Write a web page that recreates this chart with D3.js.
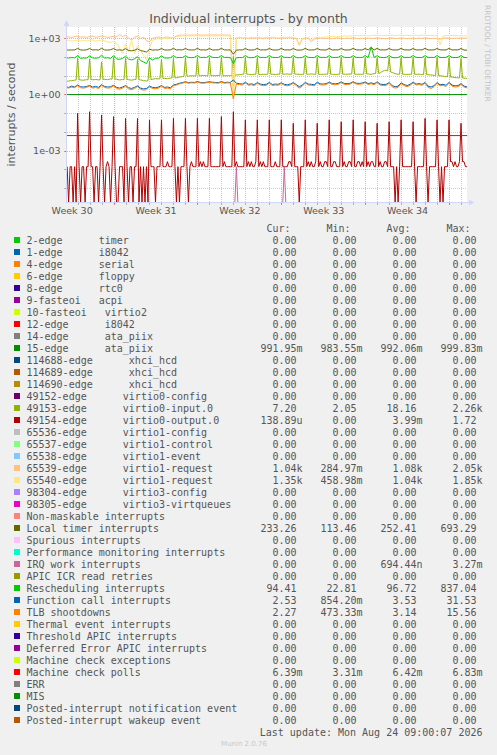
<!DOCTYPE html>
<html><head><meta charset="utf-8">
<script src="https://cdn.jsdelivr.net/npm/d3@7/dist/d3.min.js"></script>
<style>html,body{margin:0;padding:0;background:#F0F0F0;} svg{display:block;}</style>
</head><body><svg id="c" width="497" height="755"></svg>
<script>
// ---------------- DATA ----------------
const title = "Individual interrupts - by month";
const yLabel = "interrupts / second";
const lastUpdate = "Last update: Mon Aug 24 09:00:07 2026";
const viewStart = Date.UTC(2026, 6, 22, 2, 45);
const viewEnd = Date.UTC(2026, 7, 24, 12, 0);
const dataStart = Date.UTC(2026, 6, 22, 0, 0);
const stepHours = 6;      // step of the 4-per-day series
const stepHoursFine = 3;  // step of the 8-per-day series
const yTicks = [1e-3, 1, 1e3];
const yDecades = [1e-5, 1e-4, 1e-3, 1e-2, 1e-1, 1, 1e1, 1e2, 1e3];

const names = [
"2-edge      timer","1-edge      i8042","4-edge      serial","6-edge      floppy","8-edge      rtc0",
"9-fasteoi   acpi","10-fasteoi   virtio2","12-edge      i8042","14-edge      ata_piix","15-edge      ata_piix",
"114688-edge      xhci_hcd","114689-edge      xhci_hcd","114690-edge      xhci_hcd",
"49152-edge      virtio0-config","49153-edge      virtio0-input.0","49154-edge      virtio0-output.0",
"65536-edge      virtio1-config","65537-edge      virtio1-control","65538-edge      virtio1-event",
"65539-edge      virtio1-request","65540-edge      virtio1-request","98304-edge      virtio3-config",
"98305-edge      virtio3-virtqueues","Non-maskable interrupts","Local timer interrupts","Spurious interrupts",
"Performance monitoring interrupts","IRQ work interrupts","APIC ICR read retries","Rescheduling interrupts",
"Function call interrupts","TLB shootdowns","Thermal event interrupts","Threshold APIC interrupts",
"Deferred Error APIC interrupts","Machine check exceptions","Machine check polls","ERR","MIS",
"Posted-interrupt notification event","Posted-interrupt wakeup event"];
const colors = [
"#00CC00","#0066B3","#FF8000","#FFCC00","#330099","#990099","#CCFF00","#FF0000","#808080","#008F00",
"#00487D","#B35A00","#B38F00","#6B006B","#8FB300","#B30000","#BEBEBE","#80FF80","#80C9FF","#FFC080",
"#FFE680","#AA80FF","#EE00CC","#FF8080","#666600","#FFBFFF","#00FFCC","#CC6699","#999900","#00CC00",
"#0066B3","#FF8000","#FFCC00","#330099","#990099","#CCFF00","#FF0000","#808080","#008F00","#00487D","#B35A00"];
const Z = "0.00 ";
const cur = [Z,Z,Z,Z,Z,Z,Z,Z,Z,"991.95m",Z,Z,Z,Z,"7.20 ","138.89u",Z,Z,Z,"1.04k","1.35k",Z,Z,Z,"233.26 ",Z,Z,Z,Z,"94.41 ","2.53 ","2.27 ",Z,Z,Z,Z,"6.39m",Z,Z,Z,Z];
const min = [Z,Z,Z,Z,Z,Z,Z,Z,Z,"983.55m",Z,Z,Z,Z,"2.05 ",Z,Z,Z,Z,"284.97m","458.98m",Z,Z,Z,"113.46 ",Z,Z,Z,Z,"22.81 ","854.20m","473.33m",Z,Z,Z,Z,"3.31m",Z,Z,Z,Z];
const avg = [Z,Z,Z,Z,Z,Z,Z,Z,Z,"992.06m",Z,Z,Z,Z,"18.16 ","3.99m",Z,Z,Z,"1.08k","1.04k",Z,Z,Z,"252.41 ",Z,Z,"694.44n",Z,"96.72 ","3.53 ","3.14 ",Z,Z,Z,Z,"6.42m",Z,Z,Z,Z];
const max = [Z,Z,Z,Z,Z,Z,Z,Z,Z,"999.83m",Z,Z,Z,Z,"2.26k","1.72 ",Z,Z,Z,"2.05k","1.85k",Z,Z,Z,"693.29 ",Z,Z,"3.27m",Z,"837.04 ","31.53 ","15.56 ",Z,Z,Z,Z,"6.83m",Z,Z,Z,Z];

// 6-hourly samples from Jul 22 00:00 (4 per day)
const v65539 = [
1150,1220,1100,1260, 1300,1150,1220,1080, 1250,1320,1150,1200, 1350,1250,1120,1200,
1300,1200,1600,1250, 1450,1050,800,1200, 1300,950,1150,750, 650,1000,1100,1200,
1000,1100,1200,1050, 1100,1300,1450,1500, 1500,1480,1500,1490, 1510,1500,1490,1500,
1500,1490,1510,1500, 1490,1500,1500,1480, 0.6,1050,1150,1000, 1100,950,1050,1000,
1080,1000,950,1050, 1000,1100,1050,980, 1050,1000,1100,1050, 1000,950,420,900,
1050,1000,650,900, 1000,1050,980,1000, 1020,950,1000,1050, 1000,980,1020,1000,
1050,1000,950,1000, 1000,1020,980,1000, 1050,1000,1000,950, 1000,1050,980,1000,
1020,1000,950,1000, 1000,980,1020,1000, 1050,1000,980,1000, 1000,900,1000,1050,
1000,980,1020,1000, 1050,1000,1040];
const v65540 = [
750,800,700,760, 800,700,780,720, 760,820,700,760, 800,740,650,600,
700,550,300,150, 500,200,800,150, 400,250,120,70, 300,800,900,950,
900,1000,950,1050, 1100,1200,1300,1350, 1320,1350,1330,1340, 1350,1330,1340,1350,
1340,1350,1330,1350, 1350,1340,1350,1330, 0.5,1000,1100,1050, 1100,1050,1150,1100,
1150,1100,1050,1100, 1100,1150,1100,1050, 1100,1150,1100,1150, 1100,1050,500,1000,
1100,1150,800,1050, 1150,1100,1150,1200, 1200,1250,1200,1250, 1300,1350,1300,1350,
1350,1400,1350,1400, 1400,1350,1400,1450, 1450,1400,1450,1400, 1400,1450,1400,1450,
1450,1400,1450,1400, 1400,1450,1400,1450, 1450,1400,1450,1400, 1400,450,1300,1400,
1400,1450,1400,1350, 1400,1350,1350];
const vLOC = [
245,235,240,238, 290,240,235,242, 285,238,245,236, 295,240,236,244,
285,235,242,230, 280,225,215,230, 275,220,205,185, 260,235,240,238,
285,240,236,242, 290,238,245,240, 285,242,238,240, 290,240,242,238,
285,238,240,242, 290,240,238,241, 140,235,242,238, 285,240,238,242,
290,238,242,240, 285,242,238,240, 290,240,242,238, 285,238,236,240,
290,240,238,242, 285,242,240,238, 290,238,242,240, 285,240,238,242,
290,242,240,238, 285,240,320,240, 290,238,242,240, 285,240,238,242,
290,242,240,238, 285,238,242,240, 290,240,238,242, 285,242,240,238,
290,238,242,240, 285,236,233];
const vRES = [
92,88,95,90, 120,85,90,88, 115,90,86,92, 125,88,92,85,
118,80,75,85, 110,78,70,80, 105,65,55,45, 90,70,85,88,
115,90,88,92, 120,92,95,94, 118,95,93,96, 120,94,96,95,
118,96,94,95, 120,95,96,94, 45,92,95,93, 120,95,92,96,
118,94,96,95, 120,96,94,95, 118,95,96,94, 120,94,92,95,
118,96,95,94, 120,95,96,95, 118,94,95,96, 120,96,94,95,
118,95,96,94, 120,94,350,95, 118,96,94,95, 120,95,92,94,
118,94,96,95, 120,96,94,95, 118,95,96,94, 120,94,95,96,
118,96,94,95, 120,95,94];
const vCAL = [
2.6,2.4,2.8,2.5, 3.2,2.6,2.5,2.7, 3.0,2.5,2.7,2.4, 3.3,2.7,2.5,2.6,
3.1,2.4,2.2,2.5, 3.0,2.3,2.1,2.4, 2.9,2.2,2.0,2.1, 2.8,2.4,2.3,2.5,
3.0,2.4,2.5,2.3, 3.2,3.5,4.0,4.3, 4.8,4.3,4.5,4.4, 4.9,4.4,4.3,4.5,
4.8,4.5,4.4,4.3, 4.9,4.3,4.5,4.4, 6.0,4.0,3.8,3.6, 4.5,3.5,3.7,3.4,
4.3,3.6,3.4,3.5, 4.4,3.4,3.6,3.5, 4.2,3.5,3.3,3.6, 4.3,3.4,2.6,3.2,
4.4,3.6,3.5,3.3, 4.5,3.7,3.6,3.8, 4.6,3.8,3.7,3.9, 4.7,3.9,3.8,4.0,
4.8,4.0,3.9,4.1, 4.6,3.8,4.2,3.7, 4.7,3.6,3.4,3.5, 4.3,3.0,2.6,2.8,
4.2,3.4,3.0,3.5, 4.5,3.6,3.8,3.5, 4.4,2.8,2.5,3.0, 4.3,3.3,3.5,3.1,
4.4,3.2,2.9,3.0, 3.8,2.8,2.53];
const vTLB = [
2.4,2.2,2.5,2.3, 3.0,2.3,2.2,2.4, 2.8,2.2,2.4,2.1, 3.1,2.4,2.2,2.3,
2.9,2.1,1.9,2.2, 2.8,2.0,1.8,2.1, 2.7,1.9,1.7,1.8, 2.6,2.1,2.0,2.2,
2.8,2.1,2.2,2.0, 3.0,3.2,3.7,4.0, 4.5,4.0,4.2,4.1, 4.6,4.1,4.0,4.2,
4.5,4.2,4.1,4.0, 4.6,4.0,4.2,4.1, 0.6,3.6,3.4,3.2, 4.2,3.1,3.3,3.0,
4.0,3.2,3.0,3.1, 4.1,3.0,3.2,3.1, 3.9,3.1,2.9,3.2, 4.0,3.0,2.2,2.8,
4.1,3.2,3.1,2.9, 4.2,3.3,3.2,3.4, 4.3,3.4,3.3,3.5, 4.4,3.5,3.4,3.6,
4.5,3.6,3.5,3.7, 4.3,3.4,3.8,3.3, 4.4,3.2,3.0,3.1, 4.0,2.6,2.2,2.4,
3.9,3.0,2.6,3.1, 4.2,3.2,3.4,3.1, 4.1,2.4,2.1,2.6, 4.0,2.9,3.1,2.7,
4.1,2.8,2.5,2.6, 3.5,2.5,2.27];

// 3-hourly samples from Jul 22 00:00 (8 per day)
const v49153 = [
5.0,5.1,5.2,5.4,5.5,5.6,5.8,6.0, 85,6.2,6.0,5.8,5.8,6.0,6.2,6.1,
80,6.3,6.1,6.2,6.4,6.2,6.0,6.2, 55,6.4,6.5,6.3,6.2,6.5,6.8,6.6,
95,6.6,6.5,6.2,6.0,6.1,6.3,6.2, 85,6.4,6.2,6.0,5.8,6.0,6.5,6.3,
75,6.2,6.0,5.8,5.5,5.4,5.2,5.5, 60,6.2,6.5,6.8,7.0,6.9,6.8,7.0,
75,7.1,7.2,7.1,7.0,7.3,7.5,7.6, 85,7.6,7.8,8.2,8.5,8.8,9.0,9.3,
90,9.6,9.5,9.8,10,9.9,9.8,10, 95,10.2,10,10.3,10.5,10.2,10,10.1,
90,10.1,10.2,10.1,10,10.3,10.5,10.2, 95,10.2,10,10.1,10.2,10.1,10,10.5,
110,10.8,11,11.2,11.5,11.8,12,12.1, 95,12.1,12,11.8,11.5,11.8,12,12,
90,11.7,11.5,11.8,12,11.9,11.8,12, 95,12.1,12,11.9,11.8,12,12.2,12.1,
90,12.1,12,12.3,12.5,12.2,12,12.1, 95,12.3,12.2,12.1,12,11.9,11.8,12,
90,12.1,12,12.2,12.5,12.3,12,11.9, 95,11.9,11.8,11.9,12,12.1,12.2,12.1,
85,12.1,12,11.9,11.8,11.9,12,12.1, 95,12.3,12.2,12.1,12,12.3,12.5,12.4,
90,12.2,12,12.1,12.2,12.1,12,12.2, 95,12.6,12.5,12.2,12,12.5,13,13.2,
90,13.5,14,16,18,19,20,18, 95,16,15,14,13,12.5,12,12.1,
90,12.1,12,11.9,11.8,11.9,12,12.1, 95,12.1,12,12.1,12.2,11.8,11.5,11.6,
90,11.6,11.5,11.2,11,10.8,10.5,10.3, 95,10.2,10,9.8,9.5,9.2,9,8.8,
90,8.6,8.5,8.2,8,7.9,7.8,7.6, 85,7.6,7.5,7.3,7.2];
const v49154 = [
0.00014,0.00014,0,0.00014,0.00014,0,0.00014,0, 0.099,0.00014,0,0.00014,0.00014,0,0.00014,0.00014,
0.12,0.00014,0.00014,0,0.00014,0.00014,0,0.00014, 0.081,0.00014,0,0.00014,0.00026,0.00014,0,0.00014,
0.066,0.00014,0,0,0.00014,0.00014,0.00014,0, 0.053,0.00014,0,0.00014,0.00014,0,0.00014,0.00014,
0.053,0,0.00014,0,0.00014,0,0.00014,0, 0.044,0.00014,0.00014,0.00014,0,0.00014,0.00014,0.00014,
0.044,0.00014,0.00014,0.00014,0.00026,0.00014,0.00014,0.00014, 0.053,0.00014,0,0.00014,0,0.00014,0.00014,0.00014,
0.053,0.00014,0,0.00014,0.00026,0.00014,0.00014,0.00014, 0.053,0.00014,0.00026,0.00014,0.00026,0.00014,0.00014,0.00014,
0.053,0.00014,0.00014,0.00014,0.00014,0.00014,0.00014,0.00014, 0.066,0.00014,0.00026,0.00014,0.00014,0.00014,0.00014,0.00014,
0.12,0.00014,0.00026,0.00014,0.00014,0.00014,0.00014,0.00014, 0.044,0.00014,0.00026,0.00014,0.00026,0.00014,0.00014,0.00026,
0.044,0.00014,0.00026,0.00014,0.00026,0.00014,0.00014,0.00014, 0.044,0.00014,0.00014,0.00014,0.00026,0.00014,0.00014,0.00014,
0.044,0.00014,0.00014,0.00014,0.00014,0.00026,0.00026,0.00014, 0.029,0.00014,0.00014,0.00014,0,0.00014,0.00014,0.00014,
0.044,0.00014,0.00026,0.00014,0.00026,0.00014,0.00014,0.00026, 0.029,0.00014,0.00026,0.00014,0.00014,0.00026,0.00026,0.00014,
0.044,0.00014,0.00014,0.00026,0.00026,0.00014,0.00014,0.00014, 0.035,0.00014,0.00026,0.00014,0.00014,0.00026,0.00026,0.00014,
0.044,0.00014,0.00014,0.00026,0.00026,0.00014,0.00026,0.00014, 0.035,0.00014,0.00026,0.00014,0.00026,0.00026,0.00014,0.00014,
0.029,0.00014,0.00026,0.00014,0.00014,0.00026,0.00026,0.00014, 0.035,0.00014,0.00014,0.00014,0,0.00014,0,0.00014,
0.044,0.00014,0.00014,0.00014,0.00014,0.00014,0.00014,0.00014, 0.035,0.00014,0,0.00014,0.00014,0.00014,0.00014,0.00014,
0.053,0.00014,0,0.00014,0.00014,0.00014,0.00014,0.00014, 0.044,0.00014,0,0.00014,0,0.00014,0.00014,0.00014,
0.044,0.00026,0.00026,0.00014,0.00026,0.00014,0.00014,0.00026, 0.029,0.00026,0.00026,0.00014,0.00014];

// sparse / flat series: explicit sample times and values
const iwiTimes = ["2026-07-22T00:00Z","2026-08-05T03:00Z","2026-08-05T06:00Z","2026-08-05T09:00Z","2026-08-09T03:00Z","2026-08-09T06:00Z","2026-08-09T09:00Z","2026-08-24T12:00Z"];
const iwiValues = [0,0,0.00014,0,0,0.00014,0,0];
const flatTimes = ["2026-07-22T00:00Z","2026-08-24T12:00Z"];
const ata15Values = [0.99, 0.99];
const mcpValues = [0.0064, 0.0064];
const zeroValues = [0, 0];

// ---------------- DRAW ----------------
const svg = d3.select('#c');
const W = 497, H = 755;
const X0 = 67, X1 = 467, Y0 = 27, Y1 = 202;
const textCol = '#555555';
svg.append('rect').attr('width', W).attr('height', H).attr('fill', '#F0F0F0');

const x = d3.scaleUtc().domain([new Date(viewStart), new Date(viewEnd)]).range([X0, X1]);
const y = d3.scaleLog().domain([1.82e-6, 4018]).range([Y1, Y0]).clamp(true);

svg.append('rect').attr('x', X0).attr('y', Y0).attr('width', X1 - X0).attr('height', Y1 - Y0).attr('fill', '#FFFFFF');

const grid = svg.append('g');
const days = d3.utcDay.range(new Date(viewStart), new Date(viewEnd));
const px = v => Math.round(x(v)) + 0.5;
const py = v => Math.round(y(v)) + 0.5;
days.forEach(d => {
  const major = d.getUTCDay() === 0;
  grid.append('line').attr('x1', px(d)).attr('x2', px(d)).attr('y1', Y0).attr('y2', Y1 + 2)
    .attr('stroke', major ? 'rgba(255,0,0,0.35)' : 'rgba(140,140,140,0.45)')
    .attr('stroke-dasharray', '1,1');
  grid.append('line').attr('x1', px(d)).attr('x2', px(d)).attr('y1', Y1).attr('y2', Y1 + 3)
    .attr('stroke', major ? 'rgba(255,0,0,0.45)' : 'rgba(140,140,140,0.55)');
});
yDecades.forEach(v => {
  const major = yTicks.includes(v);
  grid.append('line').attr('x1', X0 - 2).attr('x2', X1).attr('y1', py(v)).attr('y2', py(v))
    .attr('stroke', major ? 'rgba(255,0,0,0.35)' : 'rgba(140,140,140,0.45)')
    .attr('stroke-dasharray', '1,1');
  grid.append('line').attr('x1', X0 - 3).attr('x2', X0).attr('y1', py(v)).attr('y2', py(v))
    .attr('stroke', major ? 'rgba(255,0,0,0.45)' : 'rgba(140,140,140,0.55)');
});

// data lines
svg.append('clipPath').attr('id', 'clip').append('rect')
  .attr('x', X0).attr('y', Y0).attr('width', X1 - X0).attr('height', Y1 - Y0 + 1);
const plot = svg.append('g').attr('clip-path', 'url(#clip)');
const line = d3.line().x(d => x(d.t)).y(d => d.v > 0 ? y(d.v) : Y1 + 0.5);
const regular = (vals, h) => vals.map((v, i) => ({t: new Date(dataStart + i * h * 3600e3), v}));
const sparse = (times, vals) => vals.map((v, i) => ({t: new Date(times[i]), v}));
const seriesData = {
  9: sparse(flatTimes, ata15Values),
  14: regular(v49153, stepHoursFine),
  15: regular(v49154, stepHoursFine),
  19: regular(v65539, stepHours),
  20: regular(v65540, stepHours),
  24: regular(vLOC, stepHours),
  27: sparse(iwiTimes, iwiValues),
  29: regular(vRES, stepHours),
  30: regular(vCAL, stepHours),
  31: regular(vTLB, stepHours),
  36: sparse(flatTimes, mcpValues)
};
names.forEach((n, i) => {
  const data = seriesData[i] || sparse(flatTimes, zeroValues);
  plot.append('path').datum(data).attr('d', line).attr('fill', 'none')
    .attr('stroke', colors[i]).attr('stroke-width', 1);
});

// axes lines & arrows
const axisCol = '#CFD6F8';
svg.append('line').attr('x1', X0 - 0.5).attr('x2', X0 - 0.5).attr('y1', Y0 - 4).attr('y2', Y1 + 1).attr('stroke', axisCol);
svg.append('line').attr('x1', X0 - 1).attr('x2', X1 + 3).attr('y1', Y1 + 0.5).attr('y2', Y1 + 0.5).attr('stroke', axisCol);
svg.append('path').attr('d', `M${X0 - 3.5},${Y0 - 1}L${X0 + 2.5},${Y0 - 1}L${X0 - 0.5},${Y0 - 7}Z`).attr('fill', axisCol);
svg.append('path').attr('d', `M${X1 + 2},${Y1 - 2.5}L${X1 + 2},${Y1 + 3.5}L${X1 + 7},${Y1 + 0.5}Z`).attr('fill', axisCol);

// y tick labels via axis
const yAxis = d3.axisLeft(y).tickValues(yTicks).tickSize(0).tickPadding(0)
  .tickFormat(v => { const e = Math.round(Math.log10(v)); return '1e' + (e < 0 ? '-' : '+') + String(Math.abs(e)).padStart(2, '0'); });
const ya = svg.append('g').attr('transform', `translate(${X0 - 6.5},0)`).call(yAxis);
ya.select('.domain').remove();
ya.selectAll('text').attr('fill', textCol).style('font', '9.5px "DejaVu Sans"');

// x week labels via axis
const weekMid = d3.utcSunday.range(new Date(Date.UTC(2026, 6, 19)), new Date(viewEnd))
  .map(d => d3.utcHour.offset(d, 84)).filter(d => d >= viewStart && d <= viewEnd);
const fmtWeek = d3.utcFormat('%V');
const xAxis = d3.axisBottom(x).tickValues(weekMid).tickSize(0).tickPadding(0)
  .tickFormat(d => 'Week ' + (+fmtWeek(d)));
const xa = svg.append('g').attr('transform', `translate(0,${Y1 + 5})`).call(xAxis);
xa.select('.domain').remove();
xa.selectAll('text').attr('fill', textCol).style('font', '9.5px "DejaVu Sans"');

// titles
svg.append('text').attr('x', 248.5).attr('y', 23).attr('text-anchor', 'middle')
  .attr('fill', textCol).style('font', '12.5px "DejaVu Sans"').text(title);
svg.append('text').attr('transform', 'translate(15,114.5) rotate(-90)').attr('text-anchor', 'middle')
  .attr('fill', textCol).style('font', '11px "DejaVu Sans"').text(yLabel);
svg.append('text').attr('transform', 'translate(485,5) rotate(90)')
  .attr('fill', '#C4C4C4').style('font', '7.5px "DejaVu Sans"').text('RRDTOOL / TOBI OETIKER');

// legend
const mono = '10px "DejaVu Sans Mono"';
const base0 = 243.5, rowH = 12;
const colEnds = [296.5, 356.5, 416.5, 476.5];
const headers = ['Cur:', 'Min:', 'Avg:', 'Max:'];
const lg = svg.append('g').attr('fill', textCol).style('font', mono);
headers.forEach((h, c) => lg.append('text').attr('x', colEnds[c] - 6).attr('y', base0 - rowH).attr('text-anchor', 'end').text(h));
const cols = [cur, min, avg, max];
names.forEach((n, i) => {
  const yb = base0 + i * rowH;
  svg.append('rect').attr('x', 14).attr('y', yb - 6.5).attr('width', 6).attr('height', 6).attr('fill', colors[i]);
  lg.append('text').attr('x', 26.5).attr('y', yb).text(n.replace(/ /g, '\u00a0'));
  cols.forEach((arr, c) => {
    const s = arr[i];
    lg.append('text').attr('x', colEnds[c]).attr('y', yb).attr('text-anchor', 'end').text(s.slice(0, -1));
    const suf = s.slice(-1);
    if (suf.trim()) lg.append('text').attr('x', colEnds[c]).attr('y', yb).text(suf);
  });
});
lg.append('text').attr('x', 482.5).attr('y', base0 + names.length * rowH).attr('text-anchor', 'end').text(lastUpdate);
svg.append('text').attr('x', 244).attr('y', 746).attr('text-anchor', 'middle')
  .attr('fill', '#C8C8C8').style('font', '7px "DejaVu Sans"').text('Munin 2.0.76');
</script></body></html>
